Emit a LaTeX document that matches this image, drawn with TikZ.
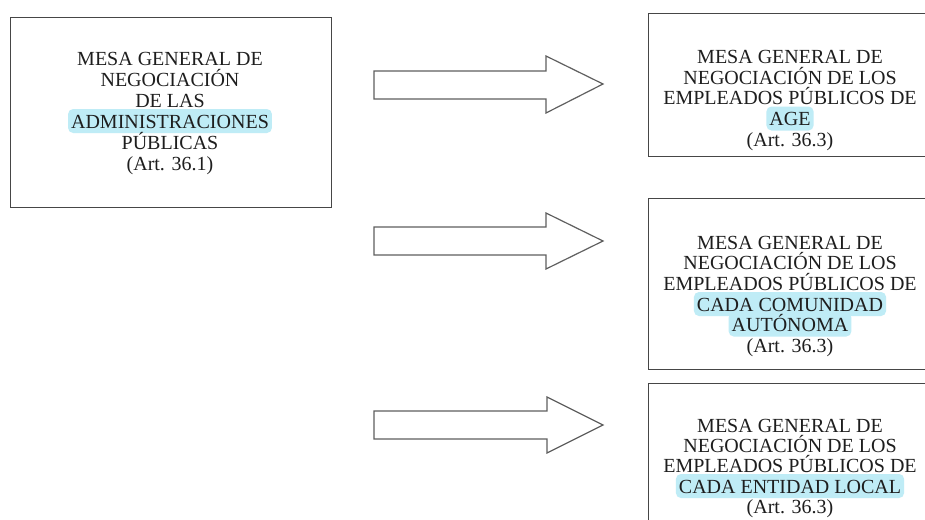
\documentclass[tikz,border=0pt]{standalone}
\usepackage{fontspec}
\setmainfont{Liberation Serif}
\definecolor{hlc}{RGB}{191,236,246}
\definecolor{edge}{RGB}{70,70,70}
\definecolor{aredge}{RGB}{95,95,95}
\definecolor{txt}{RGB}{30,30,30}
\begin{document}
\begin{tikzpicture}[x=1pt,y=-1pt,
 boxst/.style={draw=edge, line width=1.3pt, anchor=north west, inner sep=0},
 ln/.style={anchor=base, font=\fontsize{20}{20}\selectfont, text=txt, inner sep=0},
 hlln/.style={ln, fill=hlc, rounded corners=5pt, inner xsep=3pt, text height=19pt, text depth=5pt},
 blockarrow/.style={draw=aredge, line width=1.2pt, fill=white, line join=miter}]
\clip (0,0) rectangle (925,519);
\fill[white] (0,0) rectangle (925,519);
% boxes
\node[boxst, minimum width=321pt, minimum height=190pt] (b1) at (10,17) {};
\node[boxst, minimum width=290pt, minimum height=143pt] (b2) at (648,13) {};
\node[boxst, minimum width=290pt, minimum height=171pt] (b3) at (648,198) {};
\node[boxst, minimum width=290pt, minimum height=160pt] (b4) at (648,383) {};
% box 1 text
\node[ln] (a1) at (170,66) {MESA GENERAL DE};
\node[ln] (a2) at (170,86.5) {NEGOCIACIÓN};
\node[ln] (a3) at (170,107) {DE LAS};
\node[hlln] (a4) at (170,128) {ADMINISTRACIONES};
\node[ln] (a5) at (170,149) {PÚBLICAS};
\node[ln] (a6) at (170,170) {(Art. 36.1)};
% box 2 text
\node[ln] (c1) at (790,63.5) {MESA GENERAL DE};
\node[ln] (c2) at (790,84) {NEGOCIACIÓN DE LOS};
\node[ln] (c3) at (790,104.5) {EMPLEADOS PÚBLICOS DE};
\node[hlln] (c4) at (790,125.5) {AGE};
\node[ln] (c5) at (790,146) {(Art. 36.3)};
% box 3 text
\node[ln] (d1) at (790,249) {MESA GENERAL DE};
\node[ln] (d2) at (790,269.5) {NEGOCIACIÓN DE LOS};
\node[ln] (d3) at (790,290) {EMPLEADOS PÚBLICOS DE};
\node[hlln] (d4) at (790,311) {CADA COMUNIDAD};
\node[hlln] (d5) at (790,331.5) {AUTÓNOMA};
\node[ln] (d6) at (790,352) {(Art. 36.3)};
% box 4 text
\node[ln] (e1) at (790,432) {MESA GENERAL DE};
\node[ln] (e2) at (790,452) {NEGOCIACIÓN DE LOS};
\node[ln] (e3) at (790,472.5) {EMPLEADOS PÚBLICOS DE};
\node[hlln] (e4) at (790,493) {CADA ENTIDAD LOCAL};
\node[ln] (e5) at (790,513) {(Art. 36.3)};
% block arrows
\draw[blockarrow] (374,71) -- (546,71) -- (546,56) -- (603,84) -- (546,113) -- (546,99) -- (374,99) -- cycle;
\draw[blockarrow] (374,227) -- (546,227) -- (546,213) -- (603,241) -- (546,269) -- (546,255) -- (374,255) -- cycle;
\draw[blockarrow] (374,411) -- (547,411) -- (547,397) -- (603,425) -- (547,453) -- (547,439) -- (374,439) -- cycle;
\end{tikzpicture}
\end{document}
